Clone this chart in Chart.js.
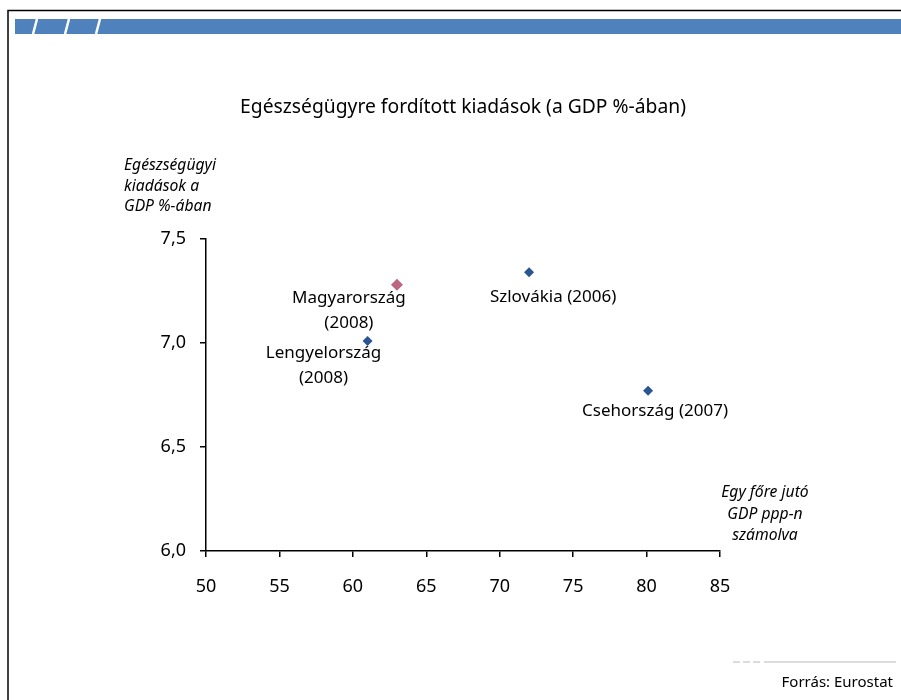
<!DOCTYPE html>
<html>
<head>
<meta charset="utf-8">
<title>Egészségügyre fordított kiadások</title>
<script src="https://cdn.jsdelivr.net/npm/chart.js"></script>
<style>
  html, body { margin: 0; padding: 0; background: #fff; }
  #wrap { width: 901px; height: 700px; position: relative; }
</style>
</head>
<body>
<div id="wrap"><canvas id="chart" width="901" height="700"></canvas></div>
<script>
// adatok
const countries = ['Magyarország', 'Lengyelország', 'Szlovákia', 'Csehország'];
const years = ['2008', '2008', '2006', '2007'];
const gdpPerCapita = [63.0, 61.0, 72.0, 80.1];
const healthSpend = [7.28, 7.01, 7.34, 6.77];
const xTicks = [50, 55, 60, 65, 70, 75, 80, 85];
const yTicks = [6.0, 6.5, 7.0, 7.5];

const BLUE = '#2b5592';
const PINK = '#bb6580';
const pointColors = countries.map(c => c === 'Magyarország' ? PINK : BLUE);

// címke elhelyezés (pixel eltolás a ponthoz képest)
const labelLayout = [
  { dx: -48, dy: 13, split: true },
  { dx: -44, dy: 12, split: true },
  { dx: 24, dy: 25, split: false },
  { dx: 7, dy: 20, split: false }
];

const FONT = '"Noto Sans", "Open Sans", sans-serif';

const decorPlugin = {
  id: 'decor',
  beforeDraw(chart) {
    const ctx = chart.ctx;
    ctx.save();
    ctx.fillStyle = '#fff';
    ctx.fillRect(0, 0, chart.width, chart.height);
    // keret
    ctx.strokeStyle = '#000';
    ctx.lineWidth = 1.5;
    ctx.beginPath();
    ctx.moveTo(8, 700);
    ctx.lineTo(8, 10.5);
    ctx.lineTo(901, 10.5);
    ctx.stroke();
    // kék sáv
    ctx.fillStyle = '#4f81bd';
    ctx.fillRect(15, 19, 886, 15);
    ctx.strokeStyle = '#fff';
    ctx.lineWidth = 2.5;
    [33, 65, 96].forEach(x => {
      ctx.beginPath();
      ctx.moveTo(x, 34);
      ctx.lineTo(x + 4, 19);
      ctx.stroke();
    });
    // alsó szürke vonal
    ctx.strokeStyle = '#dcdcdc';
    ctx.lineWidth = 2;
    ctx.setLineDash([7, 3]);
    ctx.beginPath();
    ctx.moveTo(733, 662);
    ctx.lineTo(762, 662);
    ctx.stroke();
    ctx.setLineDash([]);
    ctx.beginPath();
    ctx.moveTo(764, 662);
    ctx.lineTo(896, 662);
    ctx.stroke();
    ctx.restore();
  },
  afterDraw(chart) {
    const ctx = chart.ctx;
    const xs = chart.scales.x, ys = chart.scales.y;
    ctx.save();
    ctx.fillStyle = '#000';
    ctx.textBaseline = 'middle';

    // cím
    ctx.font = '19.3px ' + FONT;
    ctx.textAlign = 'center';
    ctx.fillText('Egészségügyre fordított kiadások (a GDP %-ában)', 463, 108);

    // tengelycímek
    ctx.font = 'italic 15.7px ' + FONT;
    ctx.textAlign = 'left';
    ['Egészségügyi', 'kiadások a', 'GDP %-ában'].forEach((t, i) => ctx.fillText(t, 124, 166 + i * 20.5));
    ctx.textAlign = 'center';
    ['Egy főre jutó', 'GDP ppp-n', 'számolva'].forEach((t, i) => ctx.fillText(t, 765, 493 + i * 21.5));

    // pont címkék
    ctx.font = '17px ' + FONT;
    countries.forEach((c, i) => {
      const px = xs.getPixelForValue(gdpPerCapita[i]);
      const py = ys.getPixelForValue(healthSpend[i]);
      const l = labelLayout[i];
      if (l.split) {
        ctx.fillText(c, px + l.dx, py + l.dy);
        ctx.fillText('(' + years[i] + ')', px + l.dx, py + l.dy + 25);
      } else {
        ctx.fillText(c + ' (' + years[i] + ')', px + l.dx, py + l.dy);
      }
    });

    // forrás
    ctx.font = '15px ' + FONT;
    ctx.textAlign = 'right';
    ctx.fillText('Forrás: Eurostat', 893, 683);
    ctx.restore();
  }
};

new Chart(document.getElementById('chart'), {
  type: 'scatter',
  data: {
    datasets: [{
      data: gdpPerCapita.map((x, i) => ({ x, y: healthSpend[i] })),
      pointStyle: 'rectRot',
      pointRadius: countries.map(c => c === 'Magyarország' ? 6 : 5),
      backgroundColor: pointColors,
      borderColor: pointColors,
      borderWidth: 0
    }]
  },
  options: {
    responsive: false,
    animation: false,
    events: [],
    layout: { padding: { left: 0, top: 239, right: 181, bottom: 99 } },
    plugins: { legend: { display: false }, tooltip: { enabled: false } },
    scales: {
      x: {
        type: 'linear',
        min: 50, max: 85,
        afterFit: s => { s.height = 50; },
        afterBuildTicks: s => { s.ticks = xTicks.map(v => ({ value: v })); },
        grid: { drawOnChartArea: false, color: '#000', tickLength: 6, lineWidth: 1.5 },
        border: { color: '#000', width: 1.5 },
        ticks: { color: '#000', padding: 19, font: { family: FONT, size: 18 } }
      },
      y: {
        min: 6, max: 7.5,
        afterFit: s => { s.width = 206; },
        afterBuildTicks: s => { s.ticks = yTicks.map(v => ({ value: v })); },
        grid: { drawOnChartArea: false, color: '#000', tickLength: 6, lineWidth: 1.5 },
        border: { color: '#000', width: 1.5 },
        ticks: {
          color: '#000', padding: 14, font: { family: FONT, size: 18 },
          callback: v => v.toFixed(1).replace('.', ',')
        }
      }
    }
  },
  plugins: [decorPlugin]
});
</script>
</body>
</html>
